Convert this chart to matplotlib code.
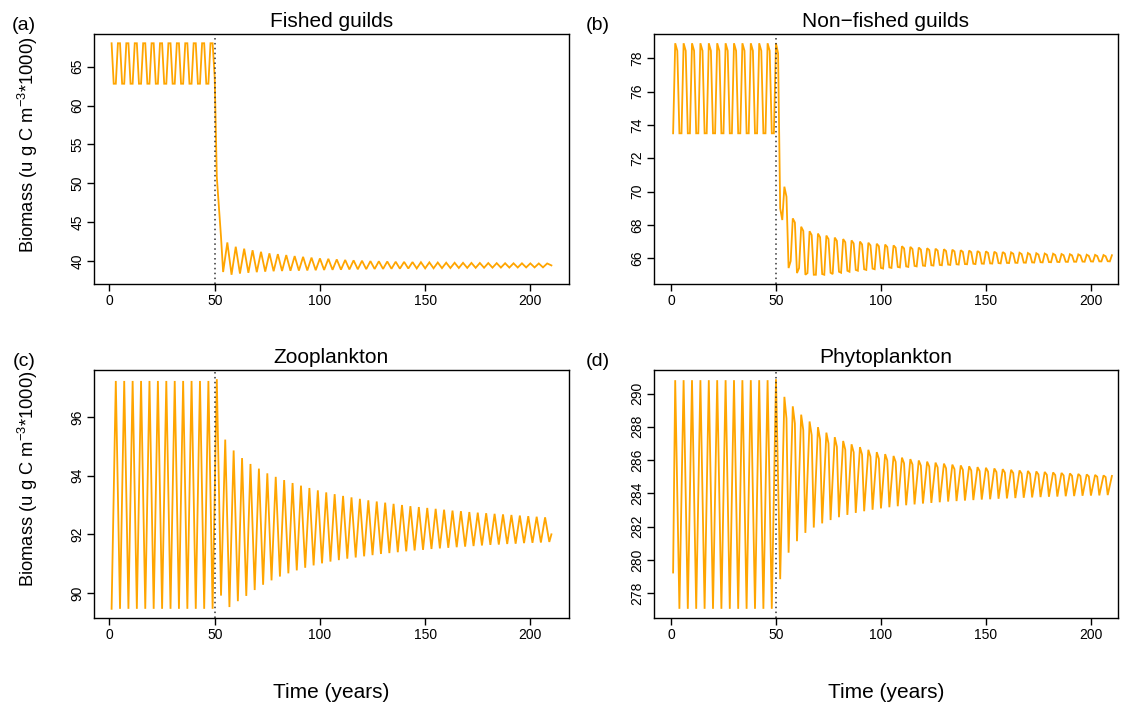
import numpy as np
import matplotlib
matplotlib.use("Agg")
import matplotlib.pyplot as plt

plt.rcParams['font.family'] = ['Liberation Sans', 'DejaVu Sans']
plt.rcParams['mathtext.fontset'] = 'custom'
plt.rcParams['mathtext.rm'] = 'Liberation Sans'
plt.rcParams['mathtext.it'] = 'Liberation Sans:italic'

ORANGE = '#FFA500'
W, H = 1122, 706

# === (a) Fished guilds ===
# annual values t = 1..53 (regular cycle before year 50, then the drop)
a_head_t = np.arange(1, 54)
a_head = [68.0] + [62.8, 62.8, 68.0, 68.0] * 12 + [63.6, 50.8, 47.0, 43.1]
a_trough_t = np.arange(54, 207, 4)
a_trough = [38.6, 38.25, 38.4, 38.5, 38.58, 38.65, 38.7, 38.73, 38.76, 38.78,
            38.8, 38.83, 38.86, 38.88, 38.9, 38.93, 38.95, 38.97, 38.99, 39.0,
            39.02, 39.03, 39.05, 39.06, 39.07, 39.08, 39.1, 39.11, 39.12, 39.13,
            39.14, 39.15, 39.16, 39.17, 39.17, 39.18, 39.19, 39.19, 39.2]
a_peak_t = np.arange(56, 209, 4)
a_peak = [42.4, 41.85, 41.6, 41.4, 41.2, 41.0, 40.9, 40.78, 40.65, 40.55,
          40.45, 40.35, 40.3, 40.22, 40.15, 40.1, 40.05, 40.0, 39.98, 39.95,
          39.92, 39.9, 39.88, 39.86, 39.84, 39.82, 39.8, 39.79, 39.78, 39.77,
          39.76, 39.75, 39.74, 39.73, 39.72, 39.72, 39.71, 39.7, 39.7]
a_tail_t = [210]
a_tail = [39.45]

# === (b) Non-fished guilds ===
b_head_t = np.arange(1, 54)
b_head = [73.5] + [78.9, 78.45, 73.5, 73.5] * 12 + [78.9, 78.3, 69.0, 68.3]
b_peak_t = np.arange(54, 211, 4)
b_peak = [70.3, 68.4, 67.9, 67.63, 67.49, 67.37, 67.25, 67.16, 67.08, 67.01,
          66.94, 66.88, 66.83, 66.78, 66.73, 66.69, 66.65, 66.61, 66.58, 66.55,
          66.52, 66.49, 66.47, 66.44, 66.42, 66.4, 66.38, 66.36, 66.34, 66.32,
          66.31, 66.29, 66.28, 66.26, 66.25, 66.24, 66.22, 66.21, 66.2, 66.19]
b_shoulder_t = np.arange(55, 208, 4)
b_shoulder = [69.7, 68.15, 67.65, 67.4, 67.27, 67.16, 67.05, 66.97, 66.9, 66.84,
              66.78, 66.73, 66.68, 66.64, 66.6, 66.56, 66.53, 66.5, 66.47, 66.44,
              66.42, 66.39, 66.37, 66.35, 66.33, 66.31, 66.29, 66.28, 66.26, 66.24,
              66.23, 66.22, 66.2, 66.19, 66.18, 66.17, 66.15, 66.14, 66.13]
b_trough_t = np.arange(56, 209, 4)
b_trough = [65.42, 65.12, 65.02, 65.02, 65.06, 65.14, 65.2, 65.26, 65.31, 65.35,
            65.39, 65.43, 65.46, 65.49, 65.52, 65.55, 65.57, 65.59, 65.61, 65.63,
            65.65, 65.66, 65.68, 65.69, 65.7, 65.72, 65.73, 65.74, 65.75, 65.76,
            65.77, 65.78, 65.79, 65.8, 65.8, 65.81, 65.82, 65.82, 65.83, 65.84]

# === (c) Zooplankton ===
c_trough_t = np.arange(1, 210, 4)
c_trough = [89.46] * 13 + [
    89.91, 89.52, 89.72, 89.9, 90.1, 90.28, 90.43, 90.56, 90.67, 90.77,
    90.86, 90.94, 91.01, 91.07, 91.12, 91.17, 91.21, 91.25, 91.29, 91.33,
    91.36, 91.39, 91.42, 91.45, 91.47, 91.5, 91.52, 91.54, 91.56, 91.58,
    91.6, 91.62, 91.64, 91.65, 91.67, 91.68, 91.7, 91.71, 91.72, 91.74]
c_peak_t = np.arange(3, 208, 4)
c_peak = [97.23] * 12 + [
    97.29, 95.23, 94.86, 94.6, 94.4, 94.24, 94.08, 93.96, 93.85, 93.75,
    93.66, 93.58, 93.5, 93.43, 93.37, 93.31, 93.26, 93.21, 93.16, 93.12,
    93.08, 93.04, 93.0, 92.96, 92.93, 92.9, 92.87, 92.84, 92.81, 92.79,
    92.76, 92.74, 92.72, 92.7, 92.68, 92.66, 92.64, 92.62, 92.6, 92.58]
c_tail_t = [210]
c_tail = [92.0]

# === (d) Phytoplankton ===
d_extra_t = [1, 51]
d_extra = [279.25, 285.0]
d_peak_t = np.arange(2, 211, 4)
d_peak = [290.8] * 12 + [290.86] + [
    289.8, 289.23, 288.73, 288.32, 287.98, 287.65, 287.38, 287.15, 286.95, 286.78,
    286.62, 286.48, 286.36, 286.25, 286.15, 286.06, 285.98, 285.91, 285.85, 285.79,
    285.73, 285.68, 285.63, 285.58, 285.54, 285.5, 285.46, 285.42, 285.38, 285.35,
    285.32, 285.29, 285.26, 285.23, 285.2, 285.17, 285.14, 285.11, 285.08, 285.05]
d_trough_t = np.arange(4, 209, 4)
d_trough = [277.07] * 12 + [
    278.85, 280.44, 281.13, 281.63, 281.95, 282.2, 282.4, 282.57, 282.71, 282.83,
    282.93, 283.02, 283.1, 283.17, 283.23, 283.29, 283.34, 283.39, 283.43, 283.47,
    283.51, 283.54, 283.57, 283.6, 283.63, 283.65, 283.68, 283.7, 283.72, 283.74,
    283.76, 283.78, 283.8, 283.81, 283.83, 283.84, 283.86, 283.87, 283.88, 283.9]
d_shoulder_t = np.arange(55, 208, 4)
d_shoulder = [288.5, 288.2, 287.8, 287.5, 287.25, 287.0, 286.8, 286.63, 286.47, 286.33,
              286.2, 286.08, 285.98, 285.89, 285.81, 285.74, 285.67, 285.61, 285.56, 285.51,
              285.46, 285.42, 285.38, 285.34, 285.31, 285.28, 285.25, 285.22, 285.19, 285.17,
              285.14, 285.12, 285.1, 285.08, 285.06, 285.04, 285.02, 285.0, 284.98]

x_ticks = [0, 50, 100, 150, 200]
a_yticks = [40, 45, 50, 55, 60, 65]
b_yticks = [66, 68, 70, 72, 74, 76, 78]
c_yticks = [90, 92, 94, 96]
d_yticks = [278, 280, 282, 284, 286, 288, 290]

titles = ["Fished guilds", "Non\u2212fished guilds", "Zooplankton", "Phytoplankton"]
letters = ["(a)", "(b)", "(c)", "(d)"]


def merge(*parts):
    t = np.concatenate([np.asarray(p[0], dtype=float) for p in parts])
    v = np.concatenate([np.asarray(p[1], dtype=float) for p in parts])
    o = np.argsort(t, kind="stable")
    return t[o], v[o]


series = [
    merge((a_head_t, a_head), (a_trough_t, a_trough), (a_peak_t, a_peak), (a_tail_t, a_tail)),
    merge((b_head_t, b_head), (b_peak_t, b_peak), (b_shoulder_t, b_shoulder),
          (b_trough_t, b_trough), (b_trough_t + 1, b_trough)),
    merge((c_trough_t, c_trough), (c_peak_t, c_peak), (c_tail_t, c_tail)),
    merge((d_extra_t, d_extra), (d_peak_t, d_peak), (d_trough_t, d_trough),
          (d_shoulder_t, d_shoulder)),
]
yticks = [a_yticks, b_yticks, c_yticks, d_yticks]

# box positions in pixels (left, top, right, bottom) and x range shown
boxes = [(94, 34, 569, 284), (654, 34, 1118, 284),
         (94, 370, 569, 618), (654, 370, 1118, 618)]
xlims = [(-7.36, 218.36), (-8.1, 212.9), (-7.36, 218.36), (-8.1, 212.9)]
letter_x = [24, 598, 24, 598]

fig = plt.figure(figsize=(W / 100, H / 100), dpi=100)

for i, (t, v) in enumerate(series):
    l, tp, r, b = boxes[i]
    ax = fig.add_axes([l / W, 1 - b / H, (r - l) / W, (b - tp) / H])
    ax.plot(t, v, color=ORANGE, lw=1.3, solid_joinstyle="miter")
    ax.axvline(50, color="#333333", ls=(0, (1, 2.2)), lw=1.1)

    ax.set_xlim(*xlims[i])
    yr = v.max() - v.min()
    ax.set_ylim(v.min() - 0.04 * yr, v.max() + 0.04 * yr)

    ax.set_xticks(x_ticks)
    ax.set_yticks(yticks[i])
    ax.tick_params(direction="out", length=5, width=1, labelsize=10, pad=2)
    for lab in ax.get_yticklabels():
        lab.set_rotation(90)
        lab.set_va("center")
    for s in ax.spines.values():
        s.set_linewidth(1)

    ax.set_title(titles[i], fontsize=15, pad=5)
    fig.text(letter_x[i] / W, 1 - (tp - 9) / H, letters[i], fontsize=14,
             ha="center", va="center")

    if i % 2 == 0:
        fig.text(28 / W, 1 - (b - 31) / H,
                 r"Biomass (u g C m$^{-3}$*1000)", fontsize=13.2,
                 rotation=90, ha="left", va="center", rotation_mode="anchor")
    if i >= 2:
        fig.text((l + r) / 2 / W, 1 - 692 / H, "Time (years)", fontsize=15,
                 ha="center", va="center")

fig.savefig("out.png", dpi=100)
